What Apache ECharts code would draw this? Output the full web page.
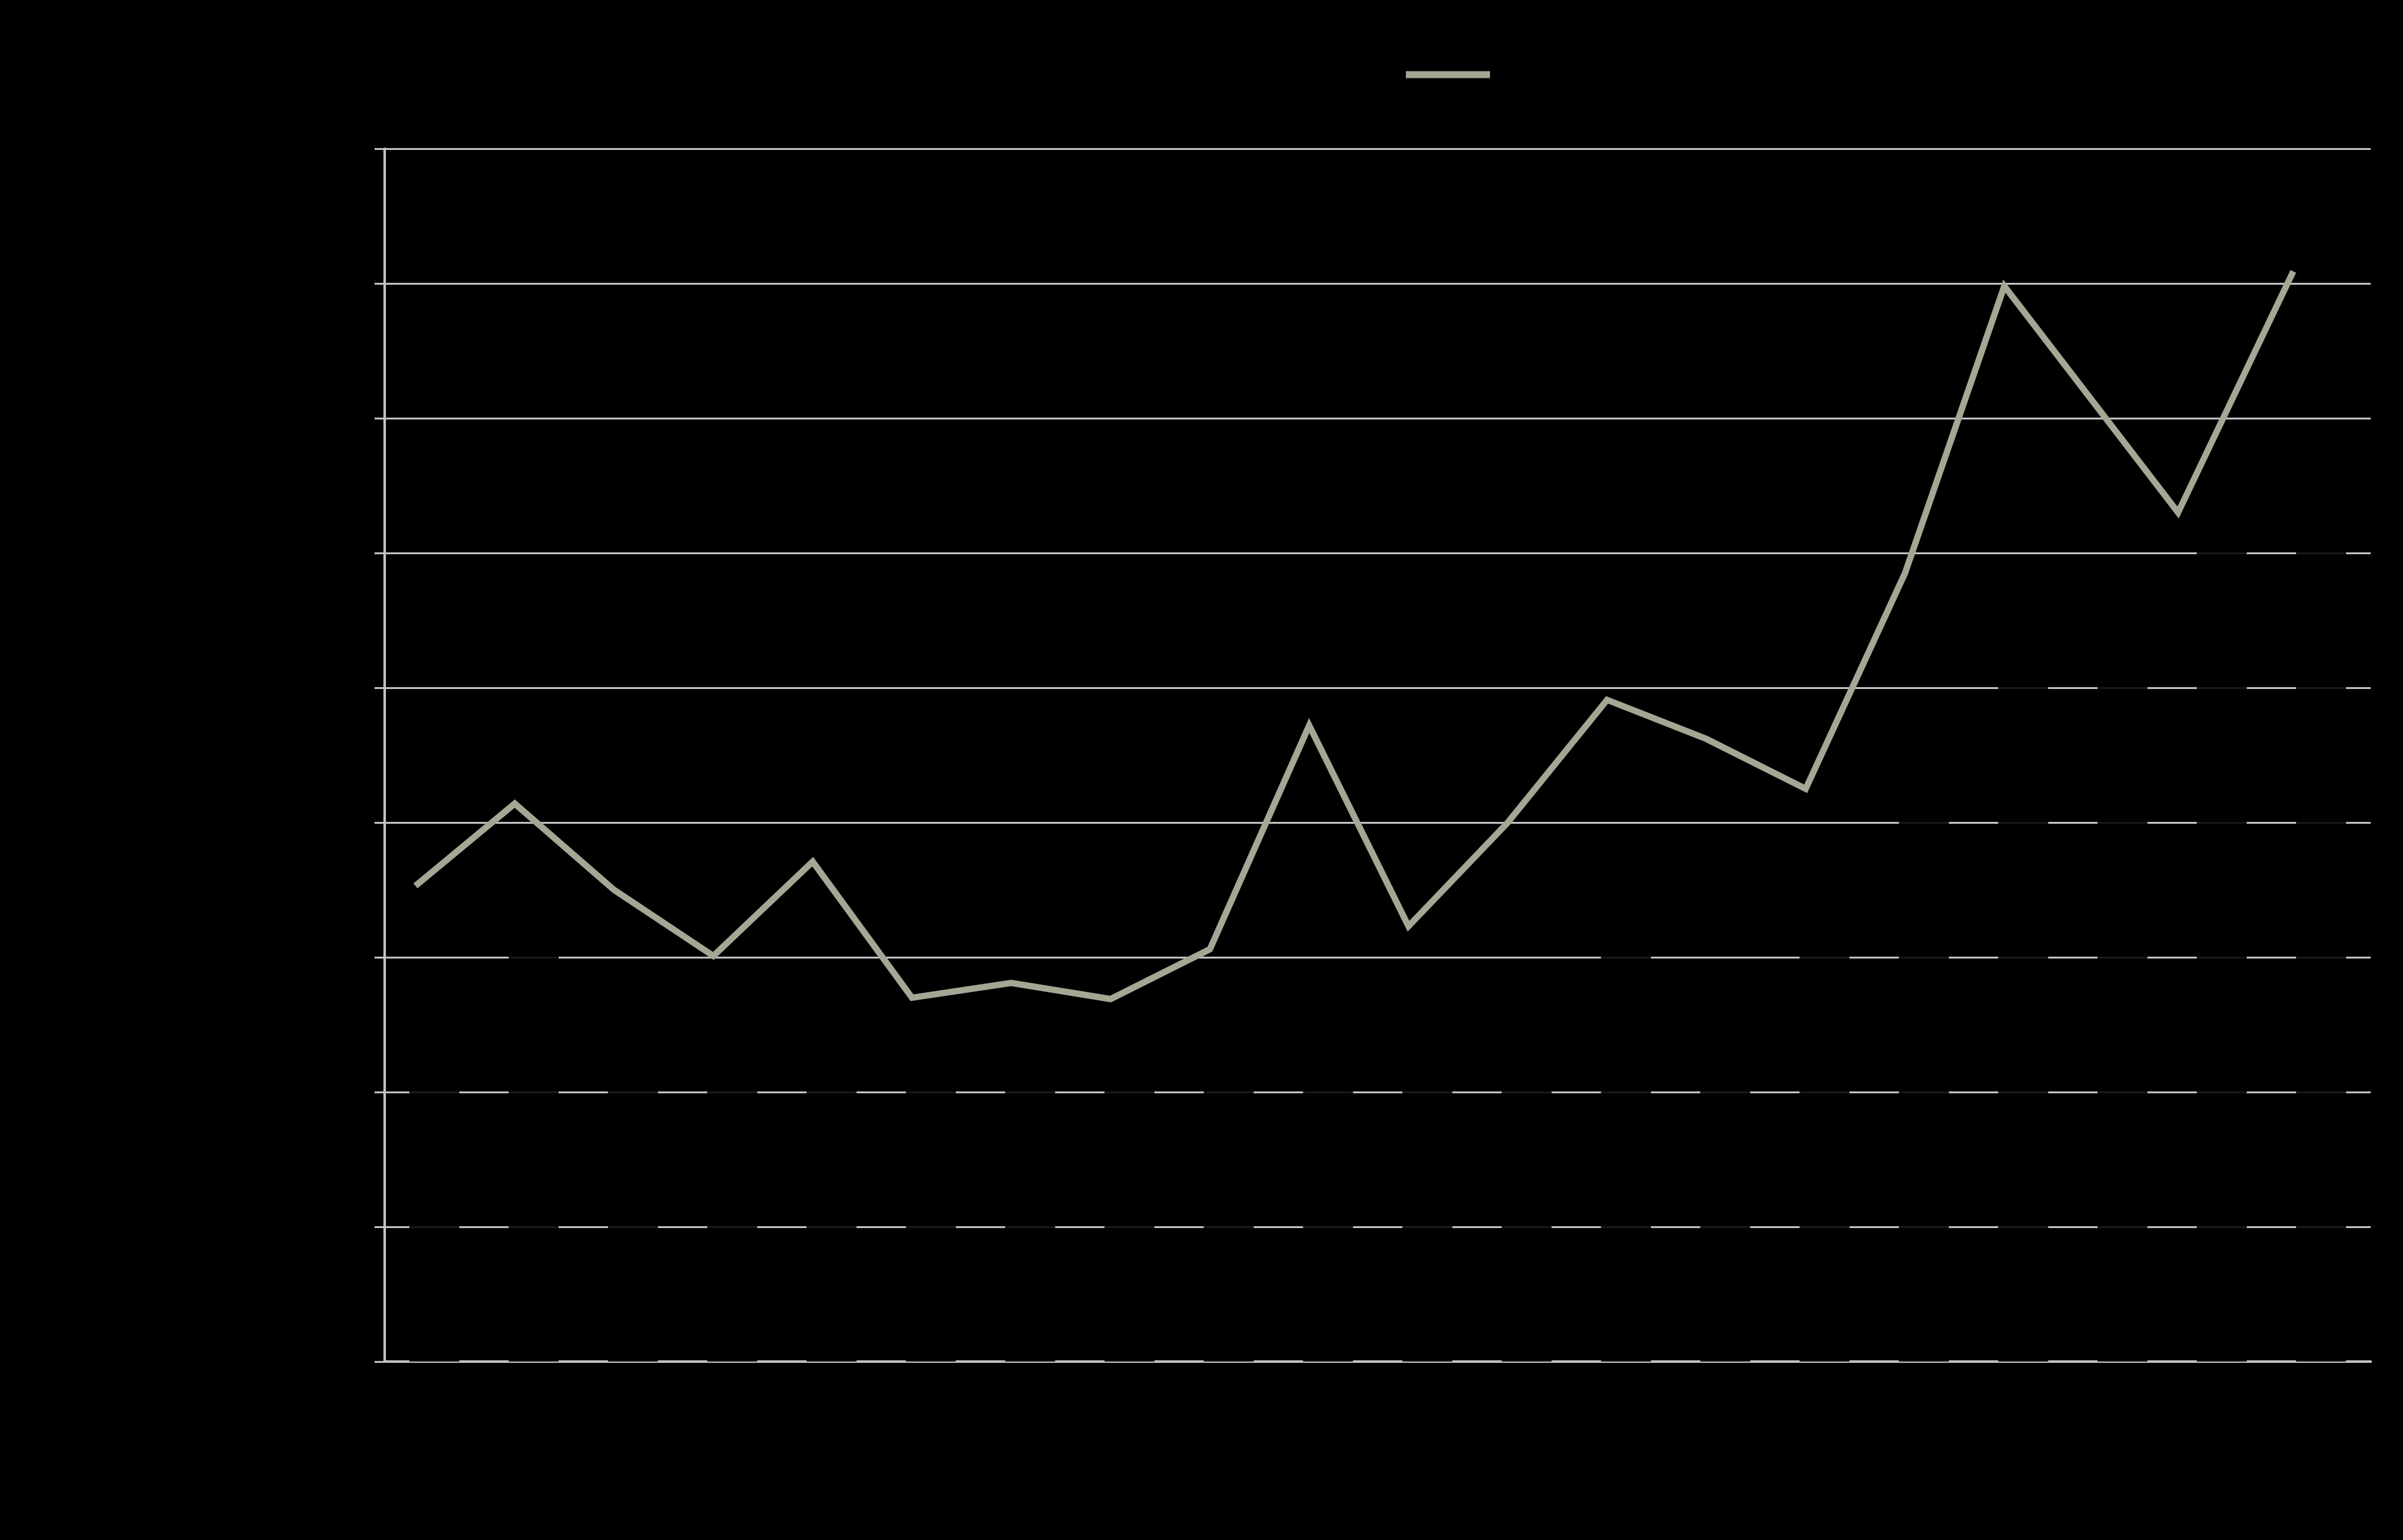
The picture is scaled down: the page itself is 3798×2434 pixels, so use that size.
<!DOCTYPE html>
<html>
<head>
<meta charset="utf-8">
<script src="https://cdn.jsdelivr.net/npm/echarts@6/dist/echarts.min.js"></script>
<style>
html,body{margin:0;padding:0;background:#000;}
#c{width:3798px;height:2434px;}
</style>
</head>
<body>
<div id="c"></div>
<script>
// ---- data ----
const categories = ['1','2','3','4','5','6','7','8','9','10','11','12','13','14','15','16','17','18','19','20'];
const barValues = [25, 35, 25, 25, 25, 25, 25, 25, 25, 25, 25, 25, 35, 29.9, 35, 45, 55, 55, 65, 65];
const lineX = [-0.19, 0.81, 1.81, 2.81, 3.81, 4.81, 5.81, 6.81, 7.81, 8.81, 9.81, 10.81, 11.81, 12.81, 13.81, 14.81, 15.81, 17.56, 18.72];
const lineY = [35.3, 41.4, 35.0, 30.1, 37.1, 27.0, 28.1, 26.9, 30.6, 47.2, 32.3, 40.0, 49.1, 46.2, 42.5, 58.5, 79.8, 63.0, 80.9];
const yMin = 0, yMax = 90, yStep = 10;
const barName = 'Series 1';
const lineName = 'Series 2';

const linePoints = lineX.map((x, i) => [x, lineY[i]]);

const chart = echarts.init(document.getElementById('c'), null, {renderer: 'canvas'});
chart.setOption({
  backgroundColor: '#000000',
  animation: false,
  legend: {
    data: [{name: lineName, icon: 'rect'}],
    left: 2217,
    top: 93,
    itemWidth: 133,
    itemHeight: 11,
    textStyle: {color: '#000000', fontSize: 40, fontFamily: 'Liberation Sans'}
  },
  grid: {left: 608, right: 51, top: 235, bottom: 282, containLabel: false},
  xAxis: [
    {
      type: 'category',
      data: categories,
      boundaryGap: true,
      axisLine: {show: true, onZero: false, lineStyle: {color: '#c0c0c4', width: 4}},
      axisTick: {show: false},
      axisLabel: {color: '#000000', fontSize: 40, fontFamily: 'Liberation Sans', margin: 30},
      splitLine: {show: false}
    },
    {
      type: 'value',
      min: -0.5,
      max: 19.5,
      show: false,
      position: 'bottom',
      splitLine: {show: false}
    }
  ],
  yAxis: {
    type: 'value',
    min: yMin,
    max: yMax,
    interval: yStep,
    position: 'left',
    axisLine: {show: true, onZero: false, lineStyle: {color: '#c0c0c4', width: 4}},
    axisTick: {show: true, length: 16, lineStyle: {color: '#c0c0c4', width: 3}},
    axisLabel: {color: '#000000', fontSize: 40, fontFamily: 'Liberation Sans', margin: 30},
    splitLine: {show: true, lineStyle: {color: '#c0c0c4', width: 3}}
  },
  series: [
    {
      name: barName,
      type: 'bar',
      xAxisIndex: 0,
      data: barValues,
      barWidth: 79,
      itemStyle: {color: 'rgba(0,0,0,0.88)'},
      z: 2
    },
    {
      name: lineName,
      type: 'line',
      xAxisIndex: 1,
      data: linePoints,
      showSymbol: false,
      symbol: 'none',
      lineStyle: {color: '#a5a794', width: 10, join: 'miter', cap: 'butt'},
      itemStyle: {color: '#a5a794'},
      z: 5
    }
  ]
});
</script>
</body>
</html>
